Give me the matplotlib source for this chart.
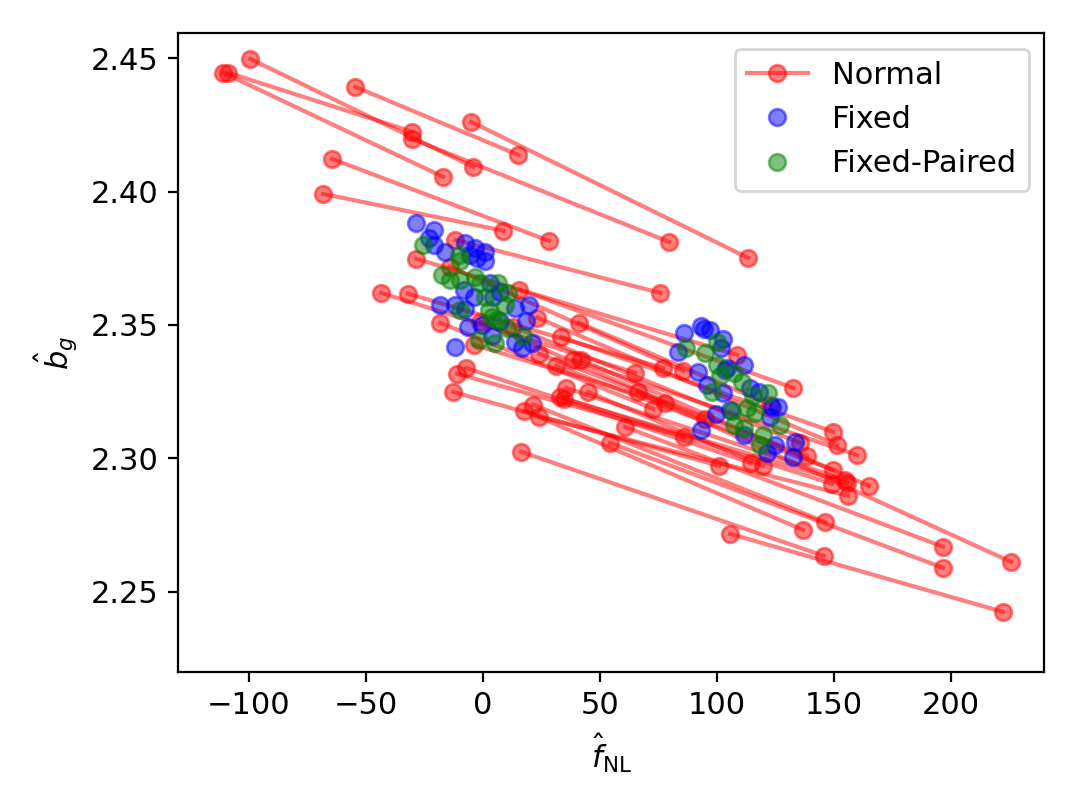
import matplotlib
matplotlib.use('Agg')
import numpy as np
import matplotlib.pyplot as plt

# Normal sims: each one is a segment from (f_a, b_a) to (f_b, b_b)
normal_f_a = [-99.3, -108.7, -110.8, -54.4, -4.9, -30.1, -64.3, -68.1, -11.7, 105.7,
              16.4, 54.4, 60.8, -43.3, 66.4, -31.9, -28.4, -14.0, 15.6, -18.1,
              -12.6, -10.9, -7.1, -3.6, 13.0, 17.7, 21.6, 23.3, 24.1, 24.1,
              31.4, 33.1, 33.5, 34.8, 35.7, 38.6, 42.1, 45.0, 41.2, -1.1]
normal_b_a = [2.4497, 2.4445, 2.4445, 2.4392, 2.4261, 2.4197, 2.4122, 2.3991, 2.3819, 2.2717,
              2.3025, 2.3058, 2.3118, 2.3620, 2.3249, 2.3617, 2.3748, 2.3718, 2.3632, 2.3508,
              2.3249, 2.3317, 2.3339, 2.3425, 2.3493, 2.3178, 2.3201, 2.3527, 2.3392, 2.3156,
              2.3347, 2.3231, 2.3455, 2.3223, 2.3264, 2.3369, 2.3369, 2.3249, 2.3508, 2.3512]
normal_f_b = [-4.1, -30.1, -16.9, 15.2, 113.4, 79.6, 28.4, 8.8, 75.8, 222.2,
              145.6, 196.6, 196.6, 65.1, 225.7, 77.1, 108.7, 85.6, 132.6, 72.8,
              101.0, 86.0, 114.6, 77.9, 135.5, 136.8, 146.2, 151.3, 138.5, 156.0,
              149.6, 149.2, 149.6, 155.6, 154.8, 159.9, 165.0, 119.7, 122.8, 95.0]
normal_b_b = [2.4092, 2.4224, 2.4055, 2.4137, 2.3751, 2.3811, 2.3815, 2.3853, 2.3620, 2.2425,
              2.2635, 2.2590, 2.2669, 2.3321, 2.2612, 2.3339, 2.3388, 2.3328, 2.3264, 2.3186,
              2.2972, 2.3081, 2.2983, 2.3208, 2.3058, 2.2732, 2.2762, 2.3051, 2.3010, 2.2860,
              2.2957, 2.2905, 2.3100, 2.2908, 2.2920, 2.3013, 2.2897, 2.2972, 2.3201, 2.3148]

fixed_f = [-28.4, -21.0, -23.1, -21.0, -16.0, -7.5, -3.2, 1.1, -2.5, 1.1,
           -5.3, 3.2, -8.2, -3.9, 4.6, 7.5, -18.1, -11.7, -7.5, 13.9,
           19.6, 18.4, -6.1, -0.3, 7.5, -11.7, 13.9, 16.7, 21.0, 3.9,
           86.0, 93.2, 94.3, 97.1, 102.8, 83.6, 101.7, 111.4, 92.1, 103.5,
           95.7, 102.8, 114.2, 117.8, 123.5, 126.3, 122.8, 99.7, 105.7, 111.4,
           93.3, 124.9, 121.3, 133.4, 132.7, 104.3]
fixed_b = [2.3881, 2.3856, 2.3825, 2.3800, 2.3775, 2.3807, 2.3788, 2.3775, 2.3750, 2.3738,
           2.3763, 2.3657, 2.3632, 2.3606, 2.3606, 2.3625, 2.3573, 2.3573, 2.3560, 2.3565,
           2.3575, 2.3513, 2.3494, 2.3500, 2.3513, 2.3417, 2.3438, 2.3413, 2.3434, 2.3457,
           2.3469, 2.3497, 2.3484, 2.3482, 2.3447, 2.3400, 2.3413, 2.3351, 2.3325, 2.3332,
           2.3276, 2.3245, 2.3263, 2.3250, 2.3194, 2.3194, 2.3157, 2.3167, 2.3182, 2.3088,
           2.3107, 2.3051, 2.3020, 2.3063, 2.3007, 2.3338]

paired_f = [-25.3, -10.3, -9.6, -17.4, -13.9, -9.6, -3.2, -1.1, 6.7, 11.0,
            1.1, 9.6, 3.9, 6.1, -1.8, 5.3, 17.4, -9.6, 2.5, 10.3,
            86.9, 100.0, 95.0, 100.0, 107.1, 110.7, 97.9, 115.6, 122.0, 112.8,
            116.4, 107.1, 127.0, 111.4, 119.9, 118.5, 101.4, 106.4]
paired_b = [2.3800, 2.3763, 2.3738, 2.3688, 2.3669, 2.3669, 2.3681, 2.3657, 2.3657, 2.3619,
            2.3606, 2.3575, 2.3531, 2.3519, 2.3444, 2.3432, 2.3457, 2.3557, 2.3557, 2.3488,
            2.3413, 2.3438, 2.3394, 2.3351, 2.3319, 2.3288, 2.3250, 2.3232, 2.3245, 2.3188,
            2.3170, 2.3126, 2.3126, 2.3113, 2.3088, 2.3051, 2.3307, 2.3176]

plt.rc('font', size=11)

fig = plt.figure(figsize=(5.38, 4.035), dpi=200)
ax = fig.add_axes([0.1657, 0.1677, 0.8046, 0.7911])

for i in range(len(normal_f_a)):
    lab = 'Normal' if i == 0 else None
    ax.plot([normal_f_a[i], normal_f_b[i]], [normal_b_a[i], normal_b_b[i]],
            'o-', color='r', alpha=0.5, label=lab)

ax.plot(fixed_f, fixed_b, 'o', color='b', alpha=0.5, label='Fixed')
ax.plot(paired_f, paired_b, 'o', color='g', alpha=0.5, label='Fixed-Paired')

ax.set_xlim(-130, 239.7)
ax.set_ylim(2.2201, 2.4593)
ax.set_xlabel(r'$\hat{f}_{\rm NL}$')
ax.set_ylabel(r'$\hat{b}_g$')
ax.legend(loc='upper right')

fig.savefig('out.png', dpi=200)
